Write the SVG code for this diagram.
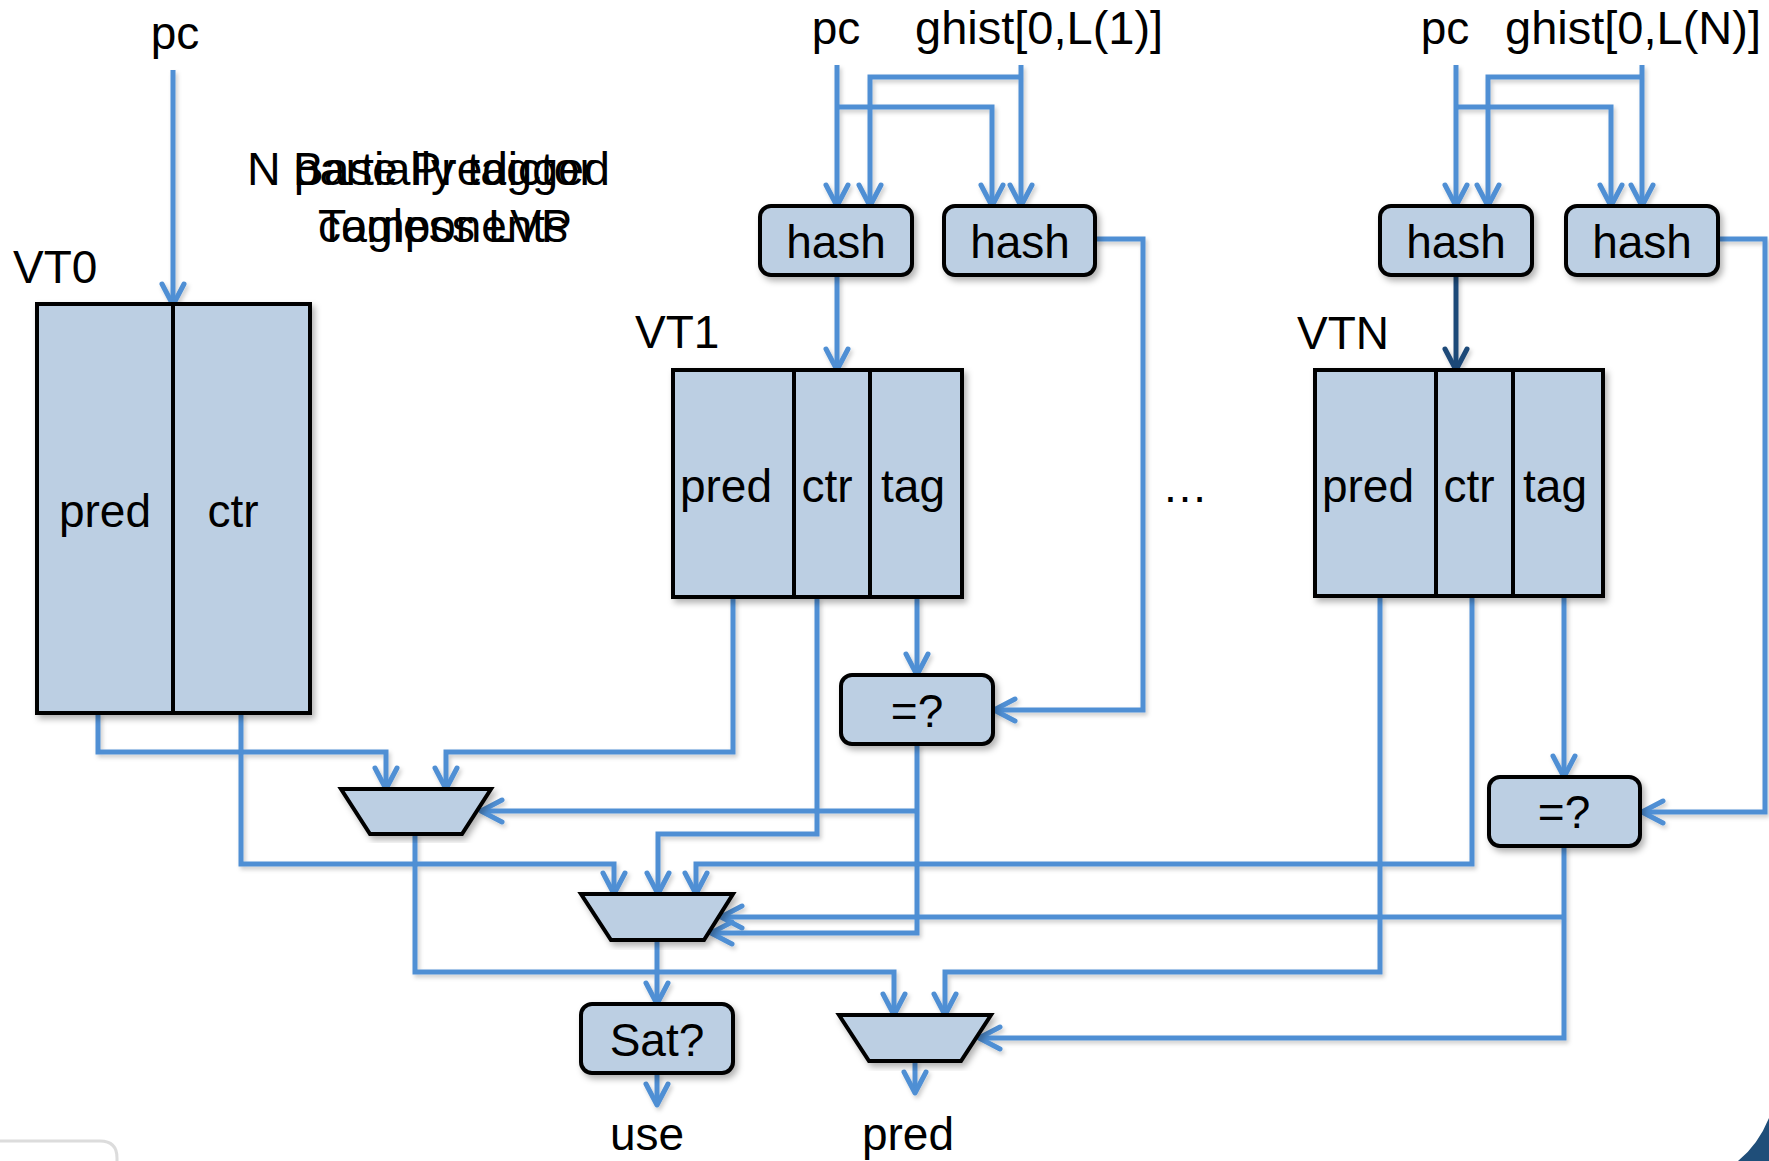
<svg xmlns="http://www.w3.org/2000/svg" width="1769" height="1161" viewBox="0 0 1769 1161">
  <style>
    .box { fill: #bccfe3; stroke: #000; stroke-width: 4; }
    .div { stroke: #000; stroke-width: 4; }
    .wire { fill: none; stroke: #4f8fd4; stroke-width: 5; stroke-linejoin: miter; }
    .wire.dark { stroke: #1f4a78; }
    .lbl { font-family: "Liberation Sans", Arial, Helvetica, sans-serif; font-size: 46px; fill: #000; }
    .hist { font-size: 47px; }
    .mid { text-anchor: middle; }
  </style>
  <defs>
    <marker id="arrow" viewBox="-26 -14 30 28" refX="0" refY="0" markerWidth="30" markerHeight="28" markerUnits="userSpaceOnUse" orient="auto">
      <path d="M-21,-11 L0,0 L-21,11" fill="none" stroke="#4f8fd4" stroke-width="5" stroke-linejoin="round" stroke-linecap="round"/>
    </marker>
    <marker id="arrowDark" viewBox="-26 -14 30 28" refX="0" refY="0" markerWidth="30" markerHeight="28" markerUnits="userSpaceOnUse" orient="auto">
      <path d="M-21,-11 L0,0 L-21,11" fill="none" stroke="#1f4a78" stroke-width="5" stroke-linejoin="round" stroke-linecap="round"/>
    </marker>
    <filter id="shadow" x="-10%" y="-10%" width="130%" height="130%">
      <feDropShadow dx="3" dy="4" stdDeviation="3" flood-color="#000" flood-opacity="0.3"/>
    </filter>
    <filter id="wireShadow" x="-5%" y="-5%" width="110%" height="110%">
      <feDropShadow dx="2" dy="3" stdDeviation="2" flood-color="#000" flood-opacity="0.2"/>
    </filter>
  </defs>

  <rect width="1769" height="1161" fill="#fff"/>

  <!-- slide frame remnants -->
  <path d="M0,1141 H100 Q117,1141 117,1158 V1161" fill="none" stroke="#dcdcdc" stroke-width="3"/>
  <path d="M1738,1161 Q1758,1145 1769,1118 V1161 Z" fill="#1f4e79"/>

  <!-- input labels -->
  <g id="inputs">
    <text class="lbl mid" x="175" y="49">pc</text>
    <text class="lbl mid" x="836" y="44">pc</text>
    <text class="lbl hist" x="915" y="44">ghist[0,L(1)]</text>
    <text class="lbl mid" x="1445" y="44">pc</text>
    <text class="lbl hist" x="1505" y="44">ghist[0,L(N)]</text>
  </g>

  <!-- two overlapping captions -->
  <g id="captions">
    <text class="lbl" x="247" y="185" textLength="363" lengthAdjust="spacingAndGlyphs">N partially tagged</text>
    <text class="lbl" x="318" y="242" textLength="250" lengthAdjust="spacingAndGlyphs">components</text>
    <text class="lbl" x="293" y="185">Base Predictor</text>
    <text class="lbl" x="318" y="242" textLength="254" lengthAdjust="spacingAndGlyphs">Tagless LVP</text>
  </g>

  <!-- connectors -->
  <g id="connectors" filter="url(#wireShadow)">
    <path class="wire" d="M173,70 V305" marker-end="url(#arrow)"/>

    <path class="wire" d="M837,65 V206" marker-end="url(#arrow)"/>
    <path class="wire" d="M837,107 H992 V206" marker-end="url(#arrow)"/>
    <path class="wire" d="M1021,65 V206" marker-end="url(#arrow)"/>
    <path class="wire" d="M1021,77 H870 V206" marker-end="url(#arrow)"/>
    <path class="wire" d="M837,275 V370" marker-end="url(#arrow)"/>
    <path class="wire" d="M1095,239 H1143 V710 H994" marker-end="url(#arrow)"/>
    <path class="wire" d="M917,597 V675" marker-end="url(#arrow)"/>

    <path class="wire" d="M1456,65 V206" marker-end="url(#arrow)"/>
    <path class="wire" d="M1456,107 H1611 V206" marker-end="url(#arrow)"/>
    <path class="wire" d="M1642,65 V206" marker-end="url(#arrow)"/>
    <path class="wire" d="M1642,77 H1488 V206" marker-end="url(#arrow)"/>
    <path class="wire dark" d="M1456,275 V370" marker-end="url(#arrowDark)"/>
    <path class="wire" d="M1718,239 H1765 V812 H1642" marker-end="url(#arrow)"/>
    <path class="wire" d="M1564,596 V777" marker-end="url(#arrow)"/>

    <path class="wire" d="M98,713 V752 H386 V789" marker-end="url(#arrow)"/>
    <path class="wire" d="M733,597 V752 H446 V789" marker-end="url(#arrow)"/>
    <path class="wire" d="M917,744 V933 H711" marker-end="url(#arrow)"/>
    <path class="wire" d="M917,811 H481" marker-end="url(#arrow)"/>

    <path class="wire" d="M241,713 V864 H614 V894" marker-end="url(#arrow)"/>
    <path class="wire" d="M817,597 V834 H658 V894" marker-end="url(#arrow)"/>
    <path class="wire" d="M1472,596 V864 H696 V894" marker-end="url(#arrow)"/>
    <path class="wire" d="M1564,846 V1038 H979" marker-end="url(#arrow)"/>
    <path class="wire" d="M1564,917 H721" marker-end="url(#arrow)"/>

    <path class="wire" d="M415,834 V972 H894 V1015" marker-end="url(#arrow)"/>
    <path class="wire" d="M1380,596 V972 H945 V1015" marker-end="url(#arrow)"/>
    <path class="wire" d="M657,940 V1004" marker-end="url(#arrow)"/>
    <path class="wire" d="M657,1073 V1105" marker-end="url(#arrow)"/>
    <path class="wire" d="M915,1061 V1093" marker-end="url(#arrow)"/>
  </g>

  <!-- base table -->
  <g id="vt0">
    <text class="lbl" x="13" y="283">VT0</text>
    <rect class="box" x="37" y="304" width="273" height="409" filter="url(#shadow)"/>
    <line class="div" x1="173" y1="304" x2="173" y2="713"/>
    <text class="lbl mid" x="105" y="527">pred</text>
    <text class="lbl mid" x="233" y="527">ctr</text>
  </g>

  <g id="hash1a">
    <rect class="box" x="760" y="206" width="152" height="69" rx="11" filter="url(#shadow)"/>
    <text class="lbl mid" x="836" y="258">hash</text>
  </g>
  <g id="hash1b">
    <rect class="box" x="944" y="206" width="151" height="69" rx="11" filter="url(#shadow)"/>
    <text class="lbl mid" x="1020" y="258">hash</text>
  </g>

  <g id="vt1">
    <text class="lbl" x="635" y="348">VT1</text>
    <rect class="box" x="673" y="370" width="289" height="227" filter="url(#shadow)"/>
    <line class="div" x1="794" y1="370" x2="794" y2="597"/>
    <line class="div" x1="870" y1="370" x2="870" y2="597"/>
    <text class="lbl mid" x="726" y="502">pred</text>
    <text class="lbl mid" x="827" y="502">ctr</text>
    <text class="lbl mid" x="913" y="502">tag</text>
  </g>

  <g id="eq1">
    <rect class="box" x="841" y="675" width="152" height="69" rx="11" filter="url(#shadow)"/>
    <text class="lbl mid" x="917" y="727">=?</text>
  </g>

  <g id="ellipsis">
    <text class="lbl mid" x="1185" y="502">…</text>
  </g>

  <g id="hashNa">
    <rect class="box" x="1380" y="206" width="152" height="69" rx="11" filter="url(#shadow)"/>
    <text class="lbl mid" x="1456" y="258">hash</text>
  </g>
  <g id="hashNb">
    <rect class="box" x="1566" y="206" width="152" height="69" rx="11" filter="url(#shadow)"/>
    <text class="lbl mid" x="1642" y="258">hash</text>
  </g>

  <g id="vtN">
    <text class="lbl" x="1297" y="349">VTN</text>
    <rect class="box" x="1315" y="370" width="288" height="226" filter="url(#shadow)"/>
    <line class="div" x1="1436" y1="370" x2="1436" y2="596"/>
    <line class="div" x1="1513" y1="370" x2="1513" y2="596"/>
    <text class="lbl mid" x="1368" y="502">pred</text>
    <text class="lbl mid" x="1469" y="502">ctr</text>
    <text class="lbl mid" x="1555" y="502">tag</text>
  </g>

  <g id="eqN">
    <rect class="box" x="1489" y="777" width="151" height="69" rx="11" filter="url(#shadow)"/>
    <text class="lbl mid" x="1564" y="828">=?</text>
  </g>

  <g id="mux1">
    <polygon class="box" points="341,789 491,789 462,834 370,834" filter="url(#shadow)"/>
  </g>
  <g id="mux2">
    <polygon class="box" points="581,894 733,894 704,940 611,940" filter="url(#shadow)"/>
  </g>
  <g id="mux3">
    <polygon class="box" points="839,1015 991,1015 961,1061 869,1061" filter="url(#shadow)"/>
  </g>

  <g id="sat">
    <rect class="box" x="581" y="1004" width="152" height="69" rx="11" filter="url(#shadow)"/>
    <text class="lbl mid" x="657" y="1056">Sat?</text>
  </g>

  <g id="outputs">
    <text class="lbl mid" x="647" y="1150">use</text>
    <text class="lbl mid" x="908" y="1150">pred</text>
  </g>
</svg>
